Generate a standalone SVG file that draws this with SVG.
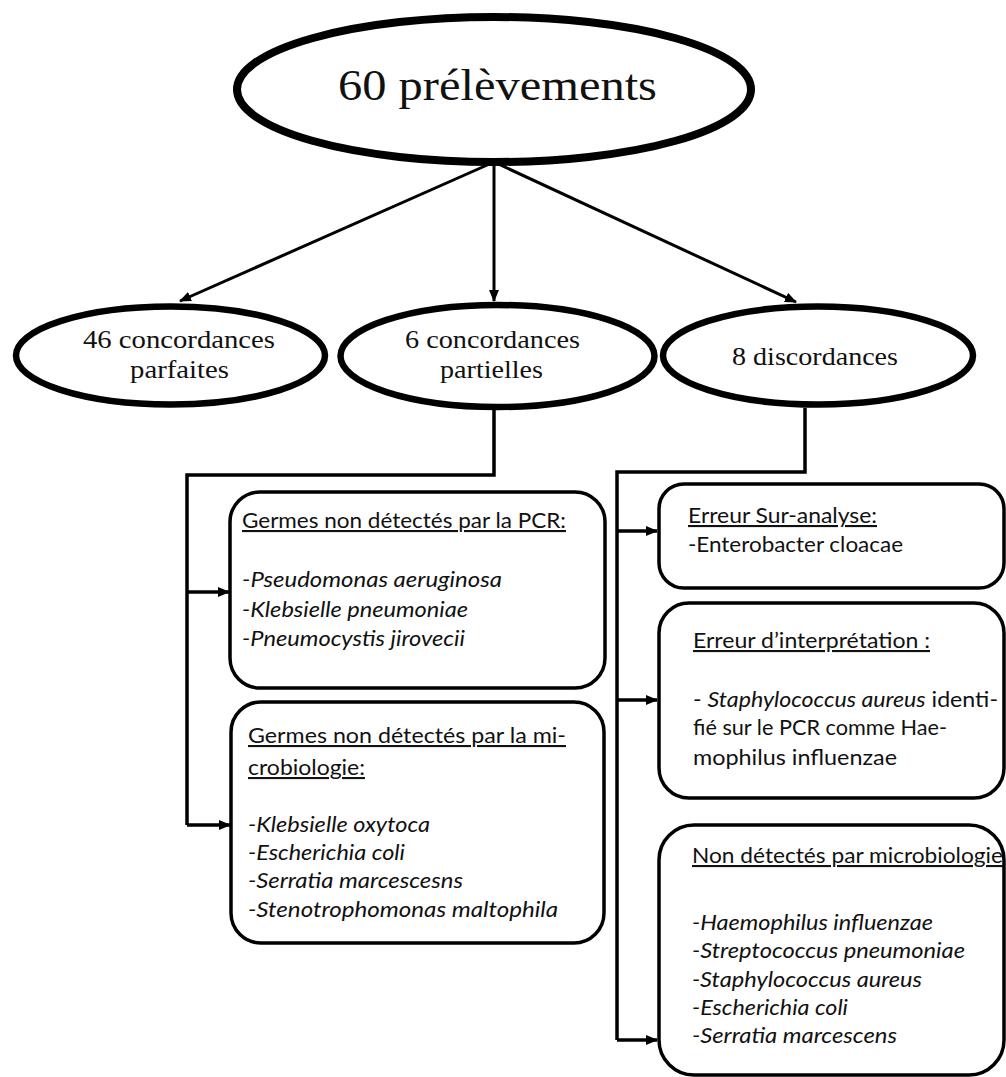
<svg xmlns="http://www.w3.org/2000/svg" width="1006" height="1077" viewBox="0 0 1006 1077">
<defs>
<marker id="ah" markerUnits="userSpaceOnUse" markerWidth="12" markerHeight="10" refX="11" refY="5" orient="auto">
<path d="M0,0 L12,5 L0,10 z" fill="#000"/>
</marker>
<style>
.ell{fill:#fff;stroke:#000;stroke-width:6.5}
.box{fill:#fff;stroke:#000;stroke-width:3.5}
.serif{font-family:"Liberation Serif","Times New Roman",serif;fill:#111}
.sans{font-family:Lato,"Open Sans","Liberation Sans",sans-serif;font-size:21px;fill:#111}
.it{font-style:italic}
.ul{text-decoration:underline}
.con{fill:none;stroke:#000;stroke-width:3.5}
.arr{fill:none;stroke:#000;stroke-width:3;marker-end:url(#ah)}
</style>
</defs>
<rect width="1006" height="1077" fill="#fff"/>
<g id="connectors">
<line class="arr" x1="494" y1="162" x2="180" y2="301"/>
<line class="arr" x1="494" y1="162" x2="494" y2="301"/>
<line class="arr" x1="494" y1="162" x2="796" y2="302"/>
<path class="con" d="M494,410 V475 H187 V825"/>
<line class="arr" x1="187" y1="592" x2="229" y2="592" style="stroke-width:3.5"/>
<line class="arr" x1="187" y1="825" x2="230" y2="825" style="stroke-width:3.5"/>
<path class="con" d="M805,408 V472 H617 V1040"/>
<line class="arr" x1="617" y1="531" x2="657" y2="531" style="stroke-width:3.5"/>
<line class="arr" x1="617" y1="700" x2="657" y2="700" style="stroke-width:3.5"/>
<line class="arr" x1="617" y1="1040" x2="657" y2="1040" style="stroke-width:3.5"/>
</g>
<g id="n-root">
<ellipse cx="494" cy="89.5" rx="257" ry="72.5" fill="#fff" stroke="#000" stroke-width="8"/>
<text class="serif" x="338" y="100" font-size="44" textLength="319" lengthAdjust="spacingAndGlyphs">60 prélèvements</text>
</g>
<g id="n-parfaites">
<ellipse class="ell" cx="170.5" cy="355.5" rx="154.5" ry="49"/>
<text class="serif" x="83" y="348" font-size="26" textLength="192" lengthAdjust="spacingAndGlyphs">46 concordances</text>
<text class="serif" x="130" y="378" font-size="26" textLength="99" lengthAdjust="spacingAndGlyphs">parfaites</text>
</g>
<g id="n-partielles">
<ellipse class="ell" cx="497.5" cy="356" rx="157" ry="51"/>
<text class="serif" x="405" y="348" font-size="26" textLength="175" lengthAdjust="spacingAndGlyphs">6 concordances</text>
<text class="serif" x="440" y="378" font-size="26" textLength="103" lengthAdjust="spacingAndGlyphs">partielles</text>
</g>
<g id="n-discordances">
<ellipse class="ell" cx="818" cy="355.5" rx="155" ry="49"/>
<text class="serif" x="732" y="365" font-size="26" textLength="166" lengthAdjust="spacingAndGlyphs">8 discordances</text>
</g>
<g id="n-pcr">
<rect class="box" x="230" y="492" width="375" height="196" rx="30"/>
<text class="sans ul" x="242" y="528" textLength="324" lengthAdjust="spacingAndGlyphs">Germes non détectés par la PCR:</text>
<text class="sans it" x="242" y="587" textLength="260" lengthAdjust="spacingAndGlyphs">-Pseudomonas aeruginosa</text>
<text class="sans it" x="242" y="617" textLength="226" lengthAdjust="spacingAndGlyphs">-Klebsielle pneumoniae</text>
<text class="sans it" x="242" y="646" textLength="223" lengthAdjust="spacingAndGlyphs">-Pneumocystis jirovecii</text>
</g>
<g id="n-micro">
<rect class="box" x="231" y="702" width="373" height="241" rx="30"/>
<text class="sans ul" x="248" y="743" textLength="318" lengthAdjust="spacingAndGlyphs">Germes non  détectés par la mi-</text>
<text class="sans ul" x="248" y="775" textLength="117" lengthAdjust="spacingAndGlyphs">crobiologie:</text>
<text class="sans it" x="248" y="832" textLength="182" lengthAdjust="spacingAndGlyphs">-Klebsielle oxytoca</text>
<text class="sans it" x="248" y="860" textLength="157" lengthAdjust="spacingAndGlyphs">-Escherichia coli</text>
<text class="sans it" x="248" y="888" textLength="215" lengthAdjust="spacingAndGlyphs">-Serratia marcescesns</text>
<text class="sans it" x="248" y="917" textLength="310" lengthAdjust="spacingAndGlyphs">-Stenotrophomonas maltophila</text>
</g>
<g id="n-suranalyse">
<rect class="box" x="659" y="484" width="345" height="104" rx="25"/>
<text class="sans ul" x="688" y="523" textLength="189" lengthAdjust="spacingAndGlyphs">Erreur Sur-analyse:</text>
<text class="sans" x="688" y="552" textLength="215" lengthAdjust="spacingAndGlyphs">-Enterobacter cloacae</text>
</g>
<g id="n-interpretation">
<rect class="box" x="659" y="603" width="345" height="195" rx="30"/>
<text class="sans ul" x="693" y="648" textLength="237" lengthAdjust="spacingAndGlyphs">Erreur d’interprétation :</text>
<text class="sans" x="693" y="707" textLength="305" lengthAdjust="spacingAndGlyphs">- <tspan class="it">Staphylococcus aureus</tspan> identi-</text>
<text class="sans" x="693" y="735" textLength="254" lengthAdjust="spacingAndGlyphs">fié sur le PCR comme Hae-</text>
<text class="sans" x="693" y="765" textLength="204" lengthAdjust="spacingAndGlyphs">mophilus  influenzae</text>
</g>
<g id="n-nondetectes">
<rect class="box" x="659" y="825" width="345" height="250" rx="35"/>
<text class="sans ul" x="692" y="863" textLength="311" lengthAdjust="spacingAndGlyphs">Non détectés par microbiologie</text>
<text class="sans it" x="692" y="930" textLength="241" lengthAdjust="spacingAndGlyphs">-Haemophilus influenzae</text>
<text class="sans it" x="692" y="958" textLength="273" lengthAdjust="spacingAndGlyphs">-Streptococcus pneumoniae</text>
<text class="sans it" x="692" y="987" textLength="230" lengthAdjust="spacingAndGlyphs">-Staphylococcus aureus</text>
<text class="sans it" x="692" y="1015" textLength="156" lengthAdjust="spacingAndGlyphs">-Escherichia coli</text>
<text class="sans it" x="692" y="1043" textLength="205" lengthAdjust="spacingAndGlyphs">-Serratia marcescens</text>
</g>
</svg>
